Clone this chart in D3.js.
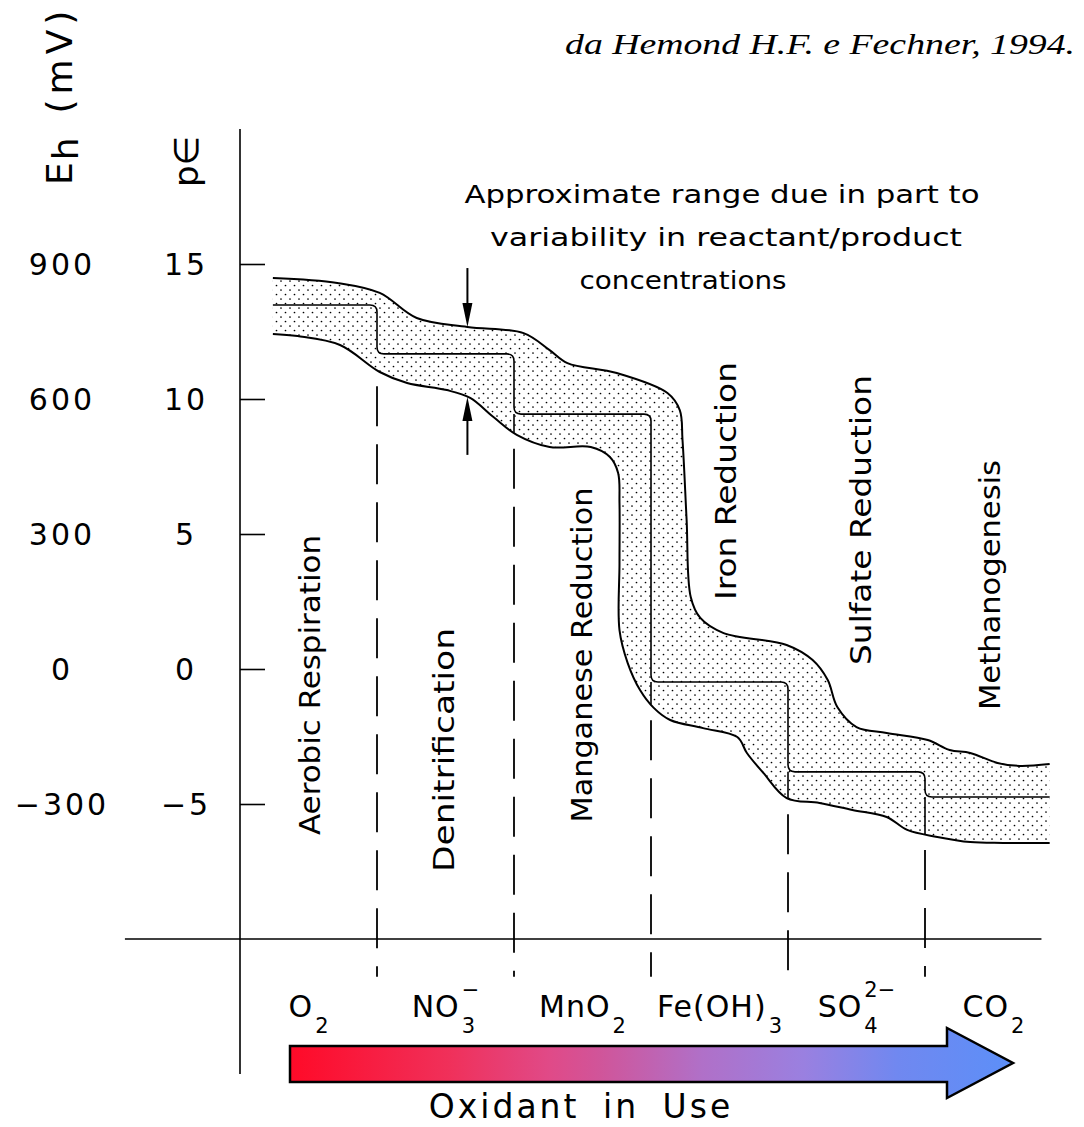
<!DOCTYPE html>
<html>
<head>
<meta charset="utf-8">
<script src="https://cdn.jsdelivr.net/npm/d3@7"></script>
<style>
body { margin: 0; background: #fff; }
text { font-family: "DejaVu Sans", sans-serif; fill: #000; }
</style>
</head>
<body>
<svg id="chart" width="1084" height="1127"></svg>
<script>
// pe tick values and the matching Eh (mV) labels
const peTicks = [15, 10, 5, 0, -5];
const peLabels = ["15", "10", "5", "0", "\u22125"];
const ehLabels = ["900", "600", "300", "0", "\u2212300"];

// zones along the sequence (x units: one per zone, dividers at 1..5)
const zoneNames = ["Aerobic Respiration", "Denitrification", "Manganese Reduction",
                   "Iron Reduction", "Sulfate Reduction", "Methanogenesis"];
const dividers = [1, 2, 3, 4, 5];
const stepLevels = [13.48, 11.67, 9.44, -0.48, -3.81, -4.74];   // mid pe of each zone
const stepStart = 0.24, stepEnd = 5.91;

// oxidants
const oxBase = ["O", "NO", "MnO", "Fe(OH)", "SO", "CO"];
const oxSub  = ["2", "3", "2", "3", "4", "2"];
const oxSup  = ["", "\u2212", "", "", "2\u2212", ""];

// band boundaries [x unit, pe]
const upperBand = [[0.24,14.48],[0.71,14.30],[1.02,13.93],[1.29,13.00],[1.66,12.67],[2.07,12.44],
  [2.26,11.81],[2.39,11.33],[2.75,10.96],[3.12,10.22],[3.21,9.59],[3.23,8.48],[3.26,5.52],
  [3.29,2.67],[3.36,1.89],[3.53,1.33],[3.99,0.89],[4.18,0.33],[4.29,-0.41],[4.36,-1.41],
  [4.50,-2.15],[4.72,-2.37],[5.02,-2.63],[5.18,-3.00],[5.33,-3.11],[5.53,-3.48],[5.69,-3.59],[5.91,-3.52]];
const lowerBand = [[0.24,12.41],[0.42,12.33],[0.73,12.00],[1.02,11.00],[1.22,10.59],[1.51,10.33],
  [1.68,10.04],[1.85,9.33],[2.02,8.67],[2.26,8.22],[2.56,8.22],[2.70,7.85],[2.76,7.26],[2.77,6.15],
  [2.77,3.93],[2.77,1.44],[2.83,0.22],[2.92,-0.78],[3.02,-1.44],[3.14,-1.89],[3.38,-2.19],
  [3.63,-2.52],[3.70,-3.11],[3.82,-3.85],[3.99,-4.78],[4.23,-4.96],[4.47,-5.22],[4.72,-5.48],
  [4.87,-5.96],[5.09,-6.22],[5.33,-6.41],[5.57,-6.44],[5.91,-6.44]];

// range arrows
const rangeArrowX = 1.66;
const rangeArrowFrom = [14.85, 7.93];
const rangeArrowTo = [12.67, 10.07];

const approxText = ["Approximate range due in part to",
                    "variability in reactant/product",
                    "concentrations"];

const gradColors = ["#ff0a28", "#f0305a", "#e04a88", "#d0559a", "#b070c8", "#9a80e0", "#7088f0", "#5c8ff8"];
const gradStops  = [0, 0.22, 0.36, 0.43, 0.57, 0.71, 0.84, 1];

const svg = d3.select("#chart");
const x = d3.scaleLinear().domain([0, 6]).range([240, 1062]);
const y = d3.scaleLinear().domain([-15, 20]).range([1074, 129]);

// defs: stipple pattern + gradient
const defs = svg.append("defs");
const pat = defs.append("pattern").attr("id", "dots")
  .attr("patternUnits", "userSpaceOnUse").attr("width", 9).attr("height", 9);
pat.append("circle").attr("cx", 2).attr("cy", 2).attr("r", 0.85).attr("fill", "#000");
pat.append("circle").attr("cx", 6.5).attr("cy", 6.5).attr("r", 0.85).attr("fill", "#000");

const grad = defs.append("linearGradient").attr("id", "oxgrad")
  .attr("gradientUnits", "userSpaceOnUse").attr("x1", 290).attr("x2", 1013).attr("y1", 0).attr("y2", 0);
grad.selectAll("stop").data(gradColors).enter().append("stop")
  .attr("offset", (d, i) => gradStops[i]).attr("stop-color", d => d);

// band
const curve = d3.curveCatmullRom.alpha(0.5);
const bandLine = d3.line().x(d => x(d[0])).y(d => y(d[1])).curve(curve);
const bandPath = bandLine(upperBand) + "L" + bandLine(lowerBand.slice().reverse()).slice(1) + "Z";
svg.append("path").attr("d", bandPath).attr("fill", "url(#dots)").attr("stroke", "none");
svg.append("path").attr("d", bandLine(upperBand)).attr("fill", "none").attr("stroke", "#000").attr("stroke-width", 2);
svg.append("path").attr("d", bandLine(lowerBand)).attr("fill", "none").attr("stroke", "#000").attr("stroke-width", 2);

// middle step line with rounded corners
const r = 7;
let sp = `M${x(stepStart)},${y(stepLevels[0])}`;
dividers.forEach((dv, i) => {
  const xd = x(dv), y1 = y(stepLevels[i]), y2 = y(stepLevels[i + 1]);
  sp += `L${xd - r},${y1}Q${xd},${y1} ${xd},${y1 + r}L${xd},${y2 - r}Q${xd},${y2} ${xd + r},${y2}`;
});
sp += `L${x(stepEnd)},${y(stepLevels[stepLevels.length - 1])}`;
svg.append("path").attr("d", sp).attr("fill", "none").attr("stroke", "#000").attr("stroke-width", 1.6);

function lowerAt(u) {
  for (let i = 1; i < lowerBand.length; i++) {
    const a = lowerBand[i - 1], b = lowerBand[i];
    if (u >= a[0] && u <= b[0] && b[0] > a[0]) return a[1] + (b[1] - a[1]) * (u - a[0]) / (b[0] - a[0]);
  }
  return lowerBand[lowerBand.length - 1][1];
}

// step verticals down to the lower boundary, then dashed dividers
dividers.forEach((dv, i) => {
  const ly = y(lowerAt(dv));
  if (i > 0) {
    svg.append("line").attr("x1", x(dv)).attr("x2", x(dv))
      .attr("y1", y(stepLevels[i + 1])).attr("y2", ly)
      .attr("stroke", "#000").attr("stroke-width", 1.6);
  }
  svg.append("line").attr("x1", x(dv)).attr("x2", x(dv))
    .attr("y1", ly + 16).attr("y2", y(-11.4))
    .attr("stroke", "#000").attr("stroke-width", 1.8)
    .attr("stroke-dasharray", "40 18");
});

// axes
svg.append("line").attr("x1", x(0)).attr("x2", x(0)).attr("y1", y(20)).attr("y2", y(-15))
  .attr("stroke", "#000").attr("stroke-width", 1.6);
svg.append("line").attr("x1", x(-0.84)).attr("x2", x(5.85)).attr("y1", y(-10)).attr("y2", y(-10))
  .attr("stroke", "#000").attr("stroke-width", 1.5);
const yAxis = d3.axisRight(y).tickValues(peTicks).tickSize(25).tickFormat("");
const ag = svg.append("g").attr("transform", `translate(${x(0)},0)`).call(yAxis);
ag.select(".domain").remove();
ag.selectAll(".tick line").attr("stroke", "#000").attr("stroke-width", 1.6);

svg.selectAll(".ehlab").data(ehLabels).enter().append("text")
  .attr("class", "ehlab").attr("x", 62).attr("y", (d, i) => y(peTicks[i]))
  .attr("text-anchor", "middle").attr("dominant-baseline", "central")
  .attr("font-size", 30).attr("letter-spacing", 3).text(d => d);
svg.selectAll(".pelab").data(peLabels).enter().append("text")
  .attr("class", "pelab").attr("x", 186).attr("y", (d, i) => y(peTicks[i]))
  .attr("text-anchor", "middle").attr("dominant-baseline", "central")
  .attr("font-size", 30).attr("letter-spacing", 3).text(d => d);

// axis titles (rotated)
const eh = svg.append("text").attr("transform", "translate(72,185) rotate(-90)")
  .attr("font-size", 36).attr("letter-spacing", 2);
eh.append("tspan").text("E");
eh.append("tspan").attr("dy", 6).text("h");
eh.append("tspan").attr("dy", -6).attr("dx", 22).attr("letter-spacing", 5).text("(mV)");
svg.append("text").attr("transform", "translate(198,187) rotate(-90)")
  .attr("font-size", 34).text("p\u2208");

// zone labels
const zoneCenter = [685, 750, 655, 481, 520, 585];
const zoneLen = [300, 244, 335, 238, 290, 250];
const zoneDx = [2, -1, 0, 7, 5, -3];
svg.selectAll(".zone").data(zoneNames).enter().append("text")
  .attr("class", "zone")
  .attr("transform", (d, i) => `translate(${x(i + 0.5) + zoneDx[i]},${zoneCenter[i]}) rotate(-90)`)
  .attr("text-anchor", "middle").attr("dominant-baseline", "central")
  .attr("font-size", 28).attr("textLength", (d, i) => zoneLen[i]).attr("lengthAdjust", "spacingAndGlyphs")
  .text(d => d);

// range annotation
const apX = [722, 726, 683], apY = [203, 246, 289], apLen = [515, 472, 207];
svg.selectAll(".approx").data(approxText).enter().append("text")
  .attr("class", "approx").attr("x", (d, i) => apX[i]).attr("y", (d, i) => apY[i])
  .attr("text-anchor", "middle").attr("font-size", 24)
  .attr("textLength", (d, i) => apLen[i]).attr("lengthAdjust", "spacingAndGlyphs").text(d => d);

rangeArrowFrom.forEach((p0, i) => {
  const ax = x(rangeArrowX), y0 = y(p0), y1 = y(rangeArrowTo[i]);
  const dir = y1 > y0 ? 1 : -1;
  svg.append("line").attr("x1", ax).attr("x2", ax).attr("y1", y0).attr("y2", y1 - dir * 10)
    .attr("stroke", "#000").attr("stroke-width", 2);
  svg.append("path")
    .attr("d", `M${ax},${y1}L${ax - 5},${y1 - dir * 24}L${ax + 5},${y1 - dir * 24}Z`)
    .attr("fill", "#000");
});

// attribution
svg.append("text").attr("x", 1075).attr("y", 54).attr("text-anchor", "end")
  .style("font-family", "'Liberation Serif', 'Times New Roman', serif").style("font-style", "italic")
  .attr("font-size", 30).attr("textLength", 510).attr("lengthAdjust", "spacingAndGlyphs")
  .text("da Hemond H.F. e Fechner, 1994.");

// oxidant labels
oxBase.forEach((b, i) => {
  const g = svg.append("g");
  const t = g.append("text").attr("x", 0).attr("y", 0).attr("font-size", 30).attr("letter-spacing", 1).text(b);
  const w = t.node().getComputedTextLength() + 2;
  const sb = g.append("text").attr("x", w).attr("y", 16).attr("font-size", 21).text(oxSub[i]);
  let tw = w + sb.node().getComputedTextLength();
  if (oxSup[i]) {
    const su = g.append("text").attr("x", w).attr("y", -20).attr("font-size", 21).text(oxSup[i]);
    tw = Math.max(tw, w + su.node().getComputedTextLength());
  }
  g.attr("transform", `translate(${x(i + 0.5) - tw / 2},1017)`);
});

// oxidant arrow
const bx0 = 290, bx1 = 947, bxt = 1013;
svg.append("path")
  .attr("d", `M${bx0},1046L${bx1},1046L${bx1},1028L${bxt},1063L${bx1},1098L${bx1},1082L${bx0},1082Z`)
  .attr("fill", "url(#oxgrad)").attr("stroke", "#000").attr("stroke-width", 2.5).attr("stroke-linejoin", "miter");

svg.append("text").attr("x", 581).attr("y", 1118).attr("text-anchor", "middle")
  .attr("font-size", 33).attr("letter-spacing", 3).attr("word-spacing", 10).text("Oxidant in Use");
</script>
</body>
</html>
